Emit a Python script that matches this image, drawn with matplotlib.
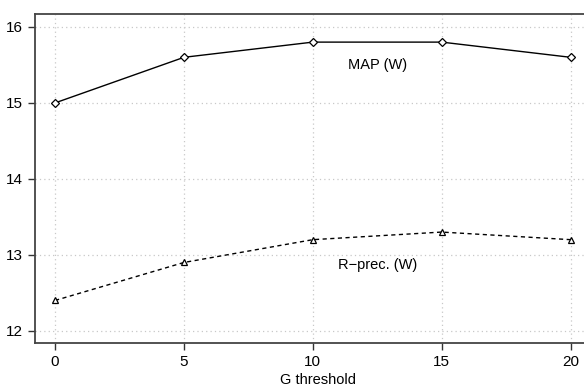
import matplotlib
matplotlib.use("Agg")
import matplotlib.pyplot as plt

# data
g_threshold = [0, 5, 10, 15, 20]
map_w = [15.0, 15.6, 15.8, 15.8, 15.6]
rprec_w = [12.4, 12.9, 13.2, 13.3, 13.2]
x_ticks = [0, 5, 10, 15, 20]
y_ticks = [12, 13, 14, 15, 16]

plt.rcParams['font.family'] = ['Liberation Sans', 'DejaVu Sans']

fig = plt.figure(figsize=(5.84, 3.88), dpi=100)
ax = fig.add_axes([35 / 584, 1 - 343 / 388, 1.03 - 35 / 584, (343 - 14) / 388])

ax.plot(g_threshold, map_w, color='black', lw=1.0, marker='D', ms=4,
        mfc='white', mec='black', mew=0.9)
ax.plot(g_threshold, rprec_w, color='black', lw=1.0, ls=(0, (3, 2.5)), marker='^',
        ms=4.5, mfc='white', mec='black', mew=0.9)

ax.text(12.5, 15.5, 'MAP (W)', ha='center', va='center', fontsize=10.5)
ax.text(12.5, 12.87, 'R\u2212prec. (W)', ha='center', va='center', fontsize=10.5)

ax.set_xlim(-0.78, 21.2)
ax.set_ylim(11.84, 16.17)
ax.set_xticks(x_ticks)
ax.set_yticks(y_ticks)
ax.tick_params(direction='out', length=5, width=1, color='#333333', labelsize=11)
ax.grid(True, color='#c8c8c8', ls=(0, (1, 2.5)), lw=0.9)
for side in ['left', 'bottom', 'top', 'right']:
    ax.spines[side].set_color('#444444')
    ax.spines[side].set_linewidth(1.3)

ax.set_xlabel('G threshold', fontsize=10.5, labelpad=3)

fig.savefig('out.png', dpi=100)
